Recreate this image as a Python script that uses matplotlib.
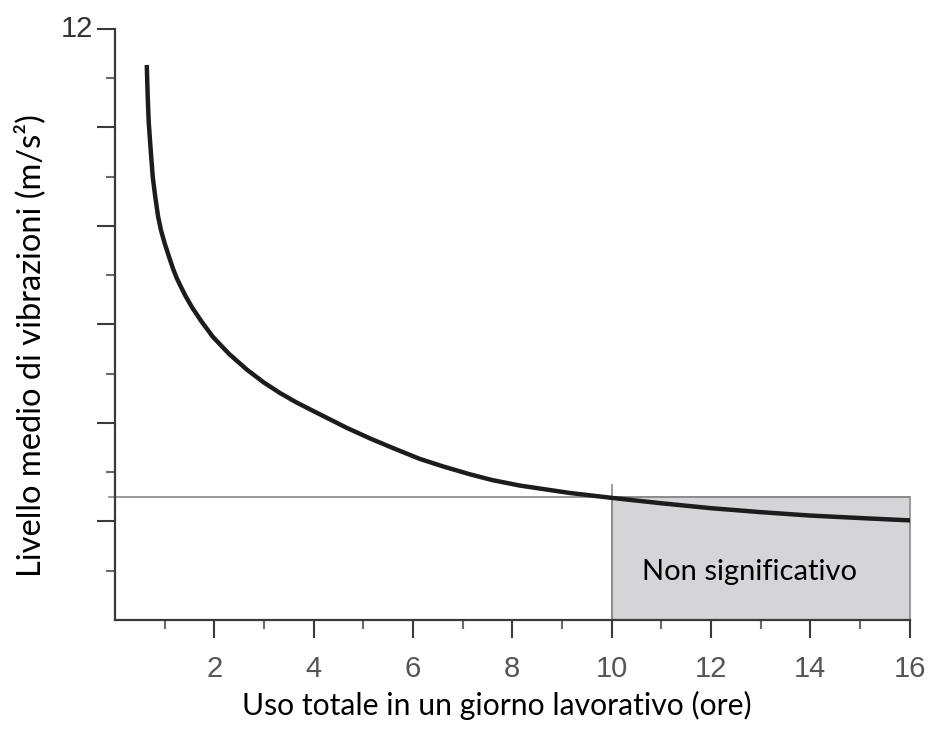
import matplotlib
matplotlib.use("Agg")
import matplotlib.pyplot as plt
import matplotlib.patches as patches

# hours of use per day vs. mean vibration level
ore = [0.64, 0.66, 0.68, 0.72, 0.76, 0.81, 0.87, 0.93, 1.0, 1.08, 1.17, 1.24,
       1.31, 1.42, 1.55, 1.75, 1.97, 2.3, 2.66, 3.0, 3.32, 3.65, 3.98, 4.67,
       5.15, 5.6, 6.14, 6.6, 7.14, 7.6, 8.15, 9.15, 10.0, 11.0, 12.0, 13.0,
       14.0, 15.0, 16.05]
livello = [11.27, 10.6, 10.1, 9.53, 9.0, 8.6, 8.18, 7.9, 7.65, 7.4, 7.13, 6.95,
           6.8, 6.58, 6.35, 6.05, 5.75, 5.4, 5.08, 4.82, 4.61, 4.42, 4.25, 3.9,
           3.68, 3.49, 3.27, 3.12, 2.96, 2.84, 2.73, 2.58, 2.48, 2.37, 2.27, 2.19,
           2.12, 2.07, 2.02]

soglia = 2.5        # threshold level
ore_limite = 10     # start of the "non significativo" zone
x_ticks = [2, 4, 6, 8, 10, 12, 14, 16]

tick_font = "Liberation Sans"
label_font = "Lato"

fig = plt.figure(figsize=(9.31, 7.30), dpi=100)
ax = fig.add_axes([0.1235, 0.1507, 0.8535, 0.8096])

# shaded zone
ax.add_patch(patches.Rectangle((ore_limite, 0), 16 - ore_limite, soglia,
                               facecolor="#d5d5d8", edgecolor="#8a8a8a",
                               linewidth=1.2, clip_on=False, zorder=1))
ax.plot([ore_limite, ore_limite], [0, 2.75], color="#8a8a8a", lw=1.2, zorder=1)
ax.plot([-0.12, 16], [soglia, soglia], color="#8a8a8a", lw=1.2, clip_on=False, zorder=1)

ax.plot(ore, livello, color="#1c1c1c", lw=3.2, solid_capstyle="butt",
        solid_joinstyle="round", zorder=3)

ax.text(12.78, 0.97, "Non significativo", family=label_font, fontsize=21,
        ha="center", va="center", color="black")

ax.set_xlim(0, 16)
ax.set_ylim(0, 12)
for s in ["top", "right"]:
    ax.spines[s].set_visible(False)
for s in ["left", "bottom"]:
    ax.spines[s].set_color("#3a3a3a")
    ax.spines[s].set_linewidth(1.6)

ax.set_xticks(x_ticks)
ax.set_xticklabels([str(v) for v in x_ticks], family=tick_font, fontsize=21, color="#555555")
ax.set_xticks(range(1, 16, 2), minor=True)
ax.set_yticks(range(2, 13, 2))
ax.set_yticklabels(["", "", "", "", "", "12"], family=tick_font, fontsize=21, color="#333333")
ax.set_yticks(range(1, 12, 2), minor=True)
ax.tick_params(which="major", direction="out", length=13, width=1.5, color="#3a3a3a")
ax.tick_params(which="minor", direction="out", length=6.5, width=1.5, color="#6a6a6a")
ax.tick_params(axis="x", which="major", pad=12)
ax.tick_params(axis="y", which="major", pad=3)
for lbl in ax.get_yticklabels():
    lbl.set_va("center")

fig.text(0.534, 0.033, "Uso totale in un giorno lavorativo (ore)", family=label_font,
         fontsize=21.7, ha="center", va="center")
fig.text(0.032, 0.527, "Livello medio di vibrazioni (m/s²)", family=label_font,
         fontsize=23.5, ha="center", va="center", rotation=90)

fig.savefig("out.png", dpi=100)
